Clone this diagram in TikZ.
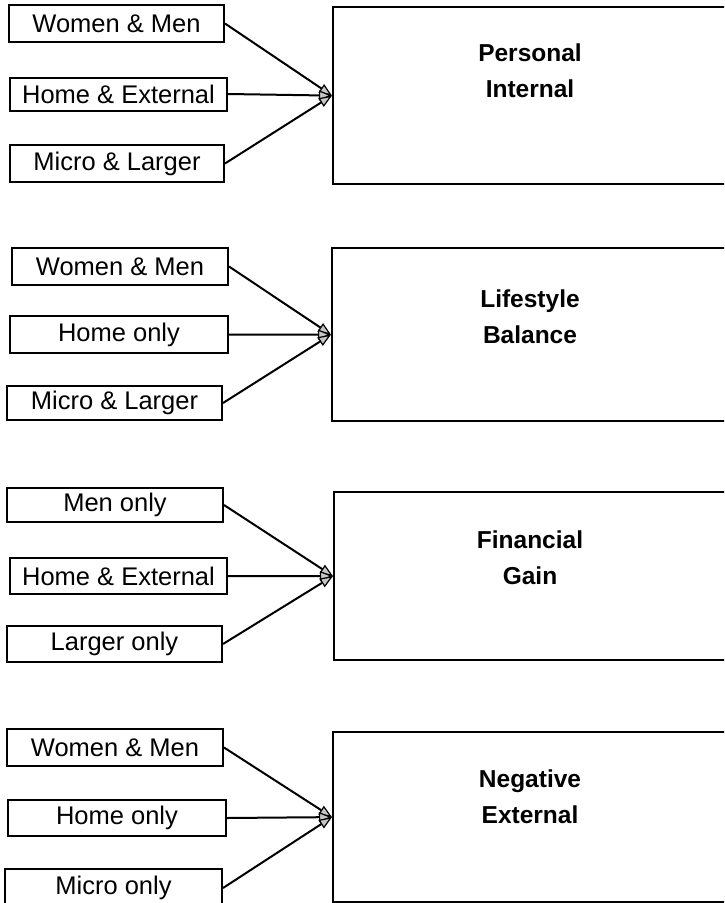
\documentclass[tikz,border=0pt]{standalone}
\usepackage{fontspec}
\setmainfont{Liberation Sans}
\usetikzlibrary{arrows.meta}
\begin{document}
\begin{tikzpicture}[x=1pt,y=-1pt,
  srcbox/.style={draw, line width=2pt, inner sep=0pt, minimum height=36pt,
    font=\fontsize{25.5}{28}\selectfont},
  bigbox/.style={draw, line width=2.2pt, inner sep=0pt, minimum width=430pt,
    anchor=north west},
  bigtext/.style={align=center, font=\bfseries\fontsize{24.5}{36}\selectfont},
  feed/.style={line width=2pt,
    -{Triangle[length=13pt,width=10pt,fill=gray!45,line width=1.2pt]}}
]
\useasboundingbox (0,0) rectangle (724,903);
\fill[white] (0,0) rectangle (724,903);
\clip (0,0) rectangle (724,903);

% ---- Personal / Internal ----
\node[bigbox, minimum height=177pt] (big1) at (332,6) {};
\node[bigtext] (t1) at (530,71) {Personal\\Internal};
\node[srcbox, minimum width=215pt, minimum height=37pt] (a1) at (116.5,23.5) {Women \& Men};
\node[srcbox, minimum width=217pt, minimum height=33pt] (b1) at (118.5,94) {Home \& External};
\node[srcbox, minimum width=214pt, minimum height=37pt] (c1) at (117,163.5) {Micro \& Larger};
\draw[feed] (a1.east) -- (big1.west);
\draw[feed] (b1.east) -- (big1.west);
\draw[feed] (c1.east) -- (big1.west);

% ---- Lifestyle / Balance ----
\node[bigbox, minimum height=173pt] (big2) at (331,247) {};
\node[bigtext] (t2) at (530,317) {Lifestyle\\Balance};
\node[srcbox, minimum width=216pt, minimum height=37pt] (a2) at (120,266.5) {Women \& Men};
\node[srcbox, minimum width=218pt, minimum height=37pt] (b2) at (119,334.5) {Home only};
\node[srcbox, minimum width=215pt, minimum height=34pt] (c2) at (114.5,403) {Micro \& Larger};
\draw[feed] (a2.east) -- (big2.west);
\draw[feed] (b2.east) -- (big2.west);
\draw[feed] (c2.east) -- (big2.west);

% ---- Financial / Gain ----
\node[bigbox, minimum height=168pt] (big3) at (333,491) {};
\node[bigtext] (t3) at (530,558) {Financial\\Gain};
\node[srcbox, minimum width=216pt, minimum height=34pt] (a3) at (115,505) {Men only};
\node[srcbox, minimum width=217pt, minimum height=36pt] (b3) at (118.5,576) {Home \& External};
\node[srcbox, minimum width=215pt, minimum height=36pt] (c3) at (114.5,644) {Larger only};
\draw[feed] (a3.east) -- (big3.west);
\draw[feed] (b3.east) -- (big3.west);
\draw[feed] (c3.east) -- (big3.west);

% ---- Negative / External ----
\node[bigbox, minimum height=170pt] (big4) at (332,731) {};
\node[bigtext] (t4) at (530,797) {Negative\\External};
\node[srcbox, minimum width=216pt, minimum height=37pt] (a4) at (115,747.5) {Women \& Men};
\node[srcbox, minimum width=218pt, minimum height=36pt] (b4) at (117,818) {Home only};
\node[srcbox, minimum width=217pt, minimum height=38pt] (c4) at (113.5,888) {Micro only};
\draw[feed] (a4.east) -- (big4.west);
\draw[feed] (b4.east) -- (big4.west);
\draw[feed] (c4.east) -- (big4.west);
\end{tikzpicture}
\end{document}
